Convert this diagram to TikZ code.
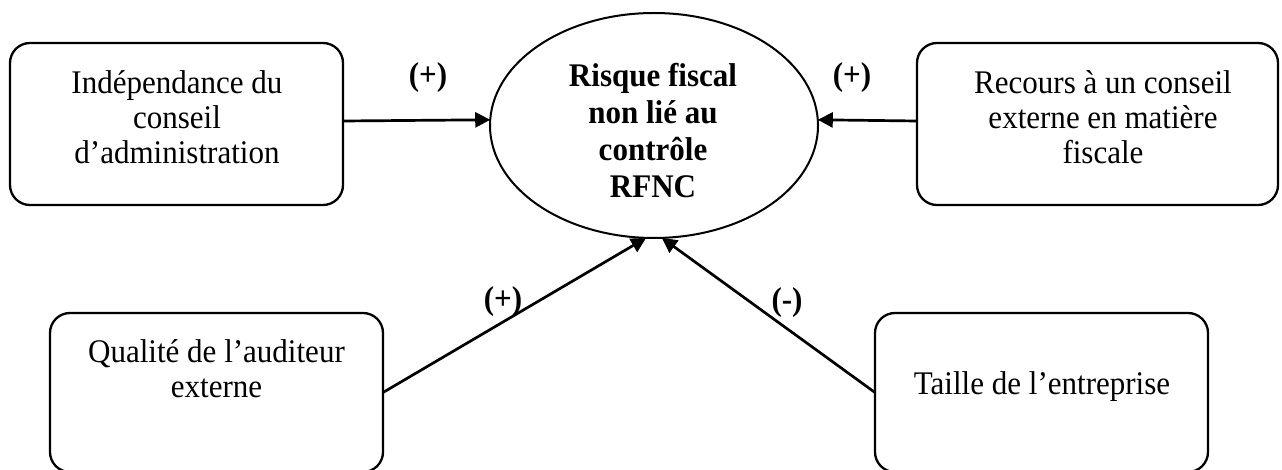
\documentclass[tikz,border=0pt]{standalone}
\usepackage{fontspec}
\setmainfont[FakeStretch=0.94]{Liberation Serif}
\usetikzlibrary{arrows.meta,shapes.geometric}
\begin{document}
\begin{tikzpicture}[x=1pt,y=-1pt,
  box/.style={draw, line width=2.3pt, rounded corners=20pt, inner sep=0pt, outer sep=0pt},
  txt/.style={align=center, inner sep=0pt, font=\fontsize{33}{35}\selectfont},
  sign/.style={inner sep=0pt, font=\fontsize{33}{35}\selectfont\bfseries},
  arr/.style={draw, line width=2.7pt, -{Triangle[length=15pt,width=15pt]}}]
\useasboundingbox (0,0) rectangle (1282,470);

% central construct
\node[ellipse, draw, line width=2pt, minimum width=328pt, minimum height=225pt,
      inner sep=0pt, outer sep=0pt] (ell) at (654,125.5) {};
\node[align=center, inner sep=0pt, font=\fontsize{33}{37}\selectfont\bfseries] (te) at (653,131)
  {Risque fiscal\\non lié au\\contrôle\\RFNC};

% explanatory variables
\node[box, minimum width=333pt, minimum height=162pt] (b1) at (176.5,124) {};
\node[txt] (t1) at (177,117) {Indépendance du\\conseil\\d’administration};

\node[box, minimum width=361pt, minimum height=162pt] (b2) at (1097.5,124) {};
\node[txt] (t2) at (1103,117) {Recours à un conseil\\externe en matière\\fiscale};

\node[box, minimum width=333pt, minimum height=159pt] (b3) at (216.5,392.5) {};
\node[txt] (t3) at (216.5,369) {Qualité de l’auditeur\\externe};

\node[box, minimum width=333pt, minimum height=159pt] (b4) at (1041.5,392.5) {};
\node[txt] (t4) at (1042,387) {Taille de l’entreprise};

% hypothesised effects
\draw[arr] ([yshift=3pt]b1.east) -- (ell.178);
\draw[arr] ([yshift=3pt]b2.west) -- (ell.2);
\draw[arr] (b3.east) -- (ell.-94);
\draw[arr] (b4.west) -- (ell.-86);

\node[sign] (s1) at (428,78) {(+)};
\node[sign] (s2) at (852,78) {(+)};
\node[sign] (s3) at (503,302) {(+)};
\node[sign] (s4) at (787,303) {(-)};
\end{tikzpicture}
\end{document}
